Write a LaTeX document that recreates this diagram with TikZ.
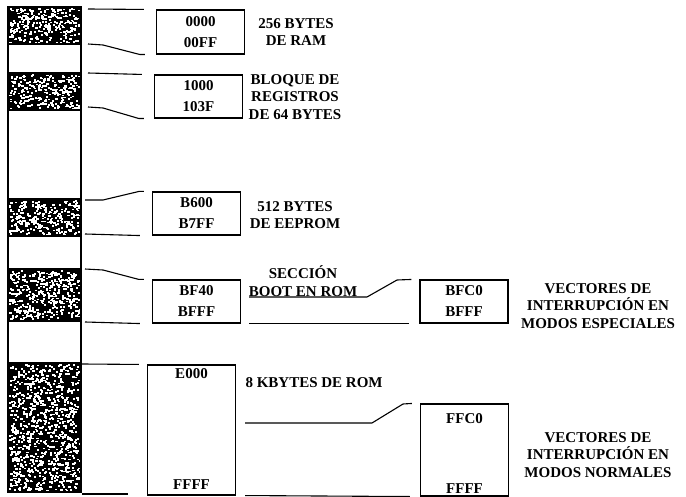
\documentclass[tikz,border=0pt]{standalone}
\usepackage{fontspec}
\setmainfont{Liberation Serif}
\begin{document}
\begin{tikzpicture}[x=1pt,y=-1pt,line width=1.1pt,
  membox/.style={draw,minimum width=88pt,align=center,inner sep=0pt,
    font=\bfseries\fontsize{15}{21}\selectfont},
  hexlbl/.style={inner sep=0pt,font=\bfseries\fontsize{15}{18}\selectfont},
  desc/.style={align=center,inner sep=0pt,font=\bfseries\fontsize{15}{17.5}\selectfont}]

  \useasboundingbox (0,0) rectangle (686,497);

  % memory bar with speckled blocks
  \pgfmathsetseed{11}
  \foreach \ya/\yb/\n in {7/44/260,73/110/260,199/236/260,269/321/370,363/492/900}{
    \fill (8,\ya) rectangle (81,\yb);
    \foreach \k in {1,...,\n}
      \fill[white] ({9+70*rnd},{\ya+1+(\yb-\ya-3)*rnd}) rectangle ++(2.2,1.8);
  }
  \draw (8,7) rectangle (81,492);
  \foreach \y in {44,73,110,199,236,269,321,363}
    \draw (8,\y) -- (81,\y);

  % address boxes
  \node[membox,minimum height=44pt] (ram) at (200.5,32) {0000\\00FF};
  \node[membox,minimum height=43pt] (regs) at (198.5,96.5) {1000\\103F};
  \node[membox,minimum height=43pt] (eeprom) at (196.5,213.5) {B600\\B7FF};
  \node[membox,minimum height=43pt] (boot) at (196.5,301.5) {BF40\\BFFF};
  \node[membox,minimum height=43pt] (vspec) at (464,301.5) {BFC0\\BFFF};
  \node[membox,minimum height=130pt] (rom) at (191.5,430) {};
  \node[membox,minimum height=92pt] (vnorm) at (464.5,450) {};
  \node[hexlbl] (romtop) at ([yshift=-9pt]rom.north) {E000};
  \node[hexlbl] (rombot) at ([yshift=11pt]rom.south) {FFFF};
  \node[hexlbl] (vntop) at ([yshift=-15pt]vnorm.north) {FFC0};
  \node[hexlbl] (vnbot) at ([yshift=8pt]vnorm.south) {FFFF};

  % connectors bar -> boxes
  \draw (88,9) -- ([xshift=-12pt]ram.north west);
  \draw (88,44) -- (103,45) -- ([xshift=-16pt]ram.south west) -- ([xshift=-11pt]ram.south west);
  \draw (88,73) -- ([xshift=-12pt]regs.north west);
  \draw (88,107) -- (103,108) -- ([xshift=-15pt]regs.south west) -- ([xshift=-10pt]regs.south west);
  \draw (85,200) -- (103,200) -- ([xshift=-13pt]eeprom.north west) -- ([xshift=-8pt]eeprom.north west);
  \draw (85,234) -- ([xshift=-12pt]eeprom.south west);
  \draw (85,269) -- (103,270) -- ([xshift=-13pt]boot.north west) -- ([xshift=-8pt]boot.north west);
  \draw (85,322) -- ([xshift=-12pt]boot.south west);
  \draw (82,364) -- ([xshift=-8pt]rom.north west);
  \draw (82,494) -- (128,494);

  % connectors boot -> vspec, rom -> vnorm
  \draw ([xshift=8pt,yshift=4.5pt]boot.east) -- (367,297) -- (397,280) -- ([xshift=-8pt]vspec.north west);
  \draw ([xshift=8pt]boot.south east) -- ([xshift=-10pt]vspec.south west);
  \draw ([xshift=9pt,yshift=7pt]rom.east) -- (372,423) -- (403,404) -- ([xshift=-8pt]vnorm.north west);
  \draw ([xshift=9pt]rom.south east) -- ([xshift=-10pt]vnorm.south west);

  % descriptions
  \node[desc] (dram) at (296,32) {256 BYTES\\DE RAM};
  \node[desc] (dregs) at (295,97) {BLOQUE DE\\REGISTROS\\DE 64 BYTES};
  \node[desc] (deep) at (295,215) {512 BYTES\\DE EEPROM};
  \node[desc] (dboot) at (303,281) {SECCIÓN\\BOOT EN ROM};
  \node[desc,anchor=west] (drom) at (245,383) {8 KBYTES DE ROM};
  \node[desc] (dvspec) at (598,306) {VECTORES DE\\INTERRUPCIÓN EN\\MODOS ESPECIALES};
  \node[desc] (dvnorm) at (598,455) {VECTORES DE\\INTERRUPCIÓN EN\\MODOS NORMALES};
\end{tikzpicture}
\end{document}
